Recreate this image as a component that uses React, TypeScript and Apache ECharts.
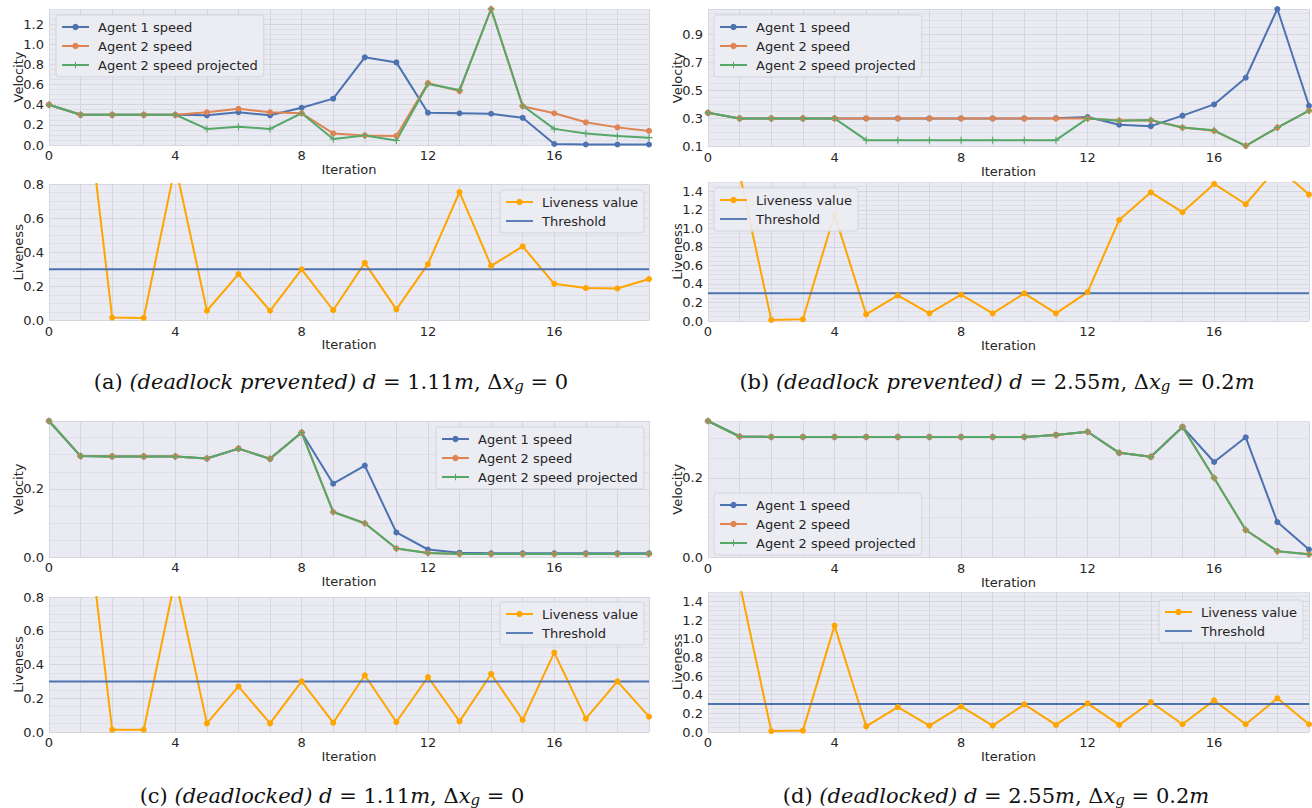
import React, { useEffect, useRef } from 'react';
import * as echarts from 'echarts';

// ---------------- data ----------------
const ITERATIONS = [0, 1, 2, 3, 4, 5, 6, 7, 8, 9, 10, 11, 12, 13, 14, 15, 16, 17, 18, 19];
const X_TICK_LABELS = [0, 4, 8, 12, 16];
const THRESHOLD = 0.3;

// (a) deadlock prevented, d = 1.11m
const A_AGENT1 = [0.40, 0.30, 0.30, 0.30, 0.30, 0.295, 0.325, 0.295, 0.37, 0.46, 0.87, 0.82, 0.32, 0.315, 0.31, 0.27, 0.01, 0.005, 0.005, 0.005];
const A_AGENT2 = [0.40, 0.30, 0.30, 0.30, 0.30, 0.325, 0.36, 0.325, 0.315, 0.115, 0.095, 0.09, 0.615, 0.535, 1.35, 0.385, 0.315, 0.225, 0.175, 0.14];
const A_PROJECTED = [0.40, 0.30, 0.30, 0.30, 0.30, 0.16, 0.18, 0.16, 0.315, 0.06, 0.095, 0.045, 0.605, 0.545, 1.35, 0.39, 0.16, 0.115, 0.09, 0.073];
const A_LIVENESS = [1.9, 1.59, 0.017, 0.015, 0.91, 0.057, 0.272, 0.057, 0.30, 0.06, 0.338, 0.065, 0.33, 0.753, 0.32, 0.434, 0.215, 0.19, 0.188, 0.243];

// (b) deadlock prevented, d = 2.55m
const B_AGENT1 = [0.34, 0.30, 0.30, 0.30, 0.30, 0.30, 0.30, 0.30, 0.30, 0.30, 0.30, 0.302, 0.31, 0.255, 0.245, 0.32, 0.40, 0.59, 1.08, 0.39];
const B_AGENT2 = [0.34, 0.30, 0.30, 0.30, 0.30, 0.30, 0.30, 0.30, 0.30, 0.30, 0.30, 0.30, 0.30, 0.285, 0.287, 0.235, 0.212, 0.105, 0.235, 0.355];
const B_PROJECTED = [0.34, 0.30, 0.30, 0.30, 0.30, 0.145, 0.145, 0.145, 0.145, 0.145, 0.145, 0.145, 0.30, 0.283, 0.288, 0.235, 0.215, 0.105, 0.235, 0.355];
const B_LIVENESS = [1.9, 1.59, 0.012, 0.018, 1.149, 0.072, 0.276, 0.083, 0.284, 0.083, 0.298, 0.083, 0.312, 1.09, 1.389, 1.174, 1.479, 1.26, 1.66, 1.364];

// (c) deadlocked, d = 1.11m
const C_AGENT1 = [0.399, 0.296, 0.295, 0.295, 0.295, 0.289, 0.318, 0.288, 0.365, 0.215, 0.268, 0.072, 0.022, 0.0126, 0.0107, 0.0107, 0.0107, 0.0107, 0.0107, 0.0107];
const C_AGENT2 = [0.399, 0.296, 0.295, 0.295, 0.295, 0.289, 0.318, 0.288, 0.365, 0.132, 0.099, 0.025, 0.0117, 0.0088, 0.0088, 0.0088, 0.0088, 0.0088, 0.0088, 0.0088];
const C_PROJECTED = [0.399, 0.296, 0.295, 0.295, 0.295, 0.289, 0.318, 0.288, 0.365, 0.132, 0.099, 0.025, 0.0117, 0.0088, 0.0088, 0.0088, 0.0088, 0.0088, 0.0088, 0.0088];
const C_LIVENESS = [1.9, 1.59, 0.014, 0.014, 0.91, 0.051, 0.27, 0.051, 0.30, 0.055, 0.336, 0.059, 0.326, 0.063, 0.344, 0.071, 0.47, 0.079, 0.30, 0.091];

// (d) deadlocked, d = 2.55m
const D_AGENT1 = [0.343, 0.304, 0.303, 0.303, 0.303, 0.303, 0.303, 0.303, 0.303, 0.303, 0.303, 0.308, 0.316, 0.263, 0.253, 0.328, 0.24, 0.302, 0.089, 0.02];
const D_AGENT2 = [0.343, 0.304, 0.303, 0.303, 0.303, 0.303, 0.303, 0.303, 0.303, 0.303, 0.303, 0.308, 0.316, 0.263, 0.253, 0.328, 0.20, 0.069, 0.016, 0.008];
const D_PROJECTED = [0.343, 0.304, 0.303, 0.303, 0.303, 0.303, 0.303, 0.303, 0.303, 0.303, 0.303, 0.308, 0.316, 0.263, 0.253, 0.328, 0.20, 0.069, 0.016, 0.008];
const D_LIVENESS = [1.9, 1.59, 0.01, 0.015, 1.14, 0.061, 0.267, 0.069, 0.274, 0.069, 0.296, 0.076, 0.307, 0.076, 0.321, 0.083, 0.339, 0.083, 0.361, 0.083];

// y tick labels
const A_VEL_TICKS = [0, 0.2, 0.4, 0.6, 0.8, 1.0, 1.2];
const B_VEL_TICKS = [0.1, 0.3, 0.5, 0.7, 0.9];
const C_VEL_TICKS = [0, 0.2];
const D_VEL_TICKS = [0, 0.2];
const LIVE_TICKS_SHORT = [0, 0.2, 0.4, 0.6, 0.8];
const LIVE_TICKS_TALL = [0, 0.2, 0.4, 0.6, 0.8, 1.0, 1.2, 1.4];

// y ranges
const A_VEL_RANGE = [0, 1.35];
const B_VEL_RANGE = [0.1, 1.08];
const C_VEL_RANGE = [0, 0.399];
const D_VEL_RANGE = [0, 0.343];
const LIVE_RANGE_SHORT = [0, 0.8];
const LIVE_RANGE_TALL = [0, 1.5];

const SPEED_NAMES = ['Agent 1 speed', 'Agent 2 speed', 'Agent 2 speed projected'];
const LIVENESS_NAMES = ['Liveness value', 'Threshold'];

const CAPTION_A = [['r', '(a) '], ['i', '(deadlock prevented)'], ['r', ' '], ['i', 'd'], ['r', ' = 1.11'], ['i', 'm'], ['r', ', Δ'], ['i', 'x'], ['s', 'g'], ['r', ' = 0']];
const CAPTION_B = [['r', '(b) '], ['i', '(deadlock prevented)'], ['r', ' '], ['i', 'd'], ['r', ' = 2.55'], ['i', 'm'], ['r', ', Δ'], ['i', 'x'], ['s', 'g'], ['r', ' = 0.2'], ['i', 'm']];
const CAPTION_C = [['r', '(c) '], ['i', '(deadlocked)'], ['r', ' '], ['i', 'd'], ['r', ' = 1.11'], ['i', 'm'], ['r', ', Δ'], ['i', 'x'], ['s', 'g'], ['r', ' = 0']];
const CAPTION_D = [['r', '(d) '], ['i', '(deadlocked)'], ['r', ' '], ['i', 'd'], ['r', ' = 2.55'], ['i', 'm'], ['r', ', Δ'], ['i', 'x'], ['s', 'g'], ['r', ' = 0.2'], ['i', 'm']];

// ---------------- styles / layout ----------------
const FONT = 'DejaVu Sans';
const SERIF = 'DejaVu Serif';
const TEXT = '#262626';
const BG = '#EAEAF2';
const VGRID = '#D6D6DE';
const HMAJOR = '#D6D6DE';
const HMINOR = '#DFDFE8';
const BLUE = '#4C72B0';
const ORANGE = '#DD8452';
const GREEN = '#55A868';
const LIVE = '#FFA500';
const PLUS = 'path://M0,4.2H10V5.8H0Z M4.2,0H5.8V10H4.2Z';

type PanelDef = {
  grid: { left: number; top: number; width: number; height: number };
  range: number[];
  ticks: number[];
  yName: string;
  xGap: number;
  legend: { left: number; top: number };
  kind: 'speed' | 'live';
  values: number[][];
};

const PANELS: PanelDef[] = [
  { kind: 'speed', grid: { left: 49, top: 9, width: 600, height: 136 }, range: A_VEL_RANGE, ticks: A_VEL_TICKS, yName: 'Velocity', xGap: 16, legend: { left: 56, top: 15 }, values: [A_AGENT1, A_AGENT2, A_PROJECTED] },
  { kind: 'live', grid: { left: 49, top: 184, width: 600, height: 136.5 }, range: LIVE_RANGE_SHORT, ticks: LIVE_TICKS_SHORT, yName: 'Liveness', xGap: 15.5, legend: { left: 500, top: 190 }, values: [A_LIVENESS] },
  { kind: 'speed', grid: { left: 708, top: 9, width: 601, height: 137.5 }, range: B_VEL_RANGE, ticks: B_VEL_TICKS, yName: 'Velocity', xGap: 18, legend: { left: 714, top: 15 }, values: [B_AGENT1, B_AGENT2, B_PROJECTED] },
  { kind: 'live', grid: { left: 708, top: 182, width: 601, height: 139 }, range: LIVE_RANGE_TALL, ticks: LIVE_TICKS_TALL, yName: 'Liveness', xGap: 15, legend: { left: 714, top: 188 }, values: [B_LIVENESS] },
  { kind: 'speed', grid: { left: 49, top: 421, width: 600, height: 136 }, range: C_VEL_RANGE, ticks: C_VEL_TICKS, yName: 'Velocity', xGap: 16.5, legend: { left: 436, top: 427 }, values: [C_AGENT1, C_AGENT2, C_PROJECTED] },
  { kind: 'live', grid: { left: 49, top: 597, width: 600, height: 135 }, range: LIVE_RANGE_SHORT, ticks: LIVE_TICKS_SHORT, yName: 'Liveness', xGap: 16, legend: { left: 500, top: 602 }, values: [C_LIVENESS] },
  { kind: 'speed', grid: { left: 708, top: 421, width: 601, height: 136.5 }, range: D_VEL_RANGE, ticks: D_VEL_TICKS, yName: 'Velocity', xGap: 18.5, legend: { left: 714, top: 493 }, values: [D_AGENT1, D_AGENT2, D_PROJECTED] },
  { kind: 'live', grid: { left: 708, top: 592, width: 601, height: 140 }, range: LIVE_RANGE_TALL, ticks: LIVE_TICKS_TALL, yName: 'Liveness', xGap: 16, legend: { left: 1159, top: 600 }, values: [D_LIVENESS] },
];

const CAPTIONS = [
  { parts: CAPTION_A, x: 331, y: 382 },
  { parts: CAPTION_B, x: 997, y: 382 },
  { parts: CAPTION_C, x: 332, y: 796 },
  { parts: CAPTION_D, x: 996, y: 796 },
];

const pairs = (vals: number[]) => vals.map((v, i) => [ITERATIONS[i], v]);
const inList = (v: number, list: number[]) => list.some((t) => Math.abs(t - v) < 1e-6);

function legendBase() {
  return {
    show: true, orient: 'vertical', itemWidth: 27, itemHeight: 8, itemGap: 5,
    padding: [5, 6, 5, 5], backgroundColor: 'rgba(236,236,243,0.9)', borderColor: 'rgba(210,210,218,0.9)',
    borderWidth: 1, borderRadius: 3, selectedMode: false,
    textStyle: { color: TEXT, fontSize: 13, fontFamily: FONT, lineHeight: 14, padding: [0, 0, 0, 4] },
  };
}

function buildOption() {
  const grid: any[] = [];
  const xAxis: any[] = [];
  const yAxis: any[] = [];
  const series: any[] = [];
  const legend: any[] = [];

  PANELS.forEach((p, i) => {
    grid.push({ ...p.grid, show: true, backgroundColor: BG, borderWidth: 0, containLabel: false });
    xAxis.push({
      type: 'value', gridIndex: i, min: ITERATIONS[0], max: ITERATIONS[ITERATIONS.length - 1], interval: 1,
      name: 'Iteration', nameLocation: 'middle', nameGap: p.xGap,
      nameTextStyle: { color: TEXT, fontSize: 13, fontFamily: FONT },
      axisLine: { show: false }, axisTick: { show: false },
      axisLabel: {
        margin: 4, color: TEXT, fontSize: 13, fontFamily: FONT,
        formatter: (v: number) => (inList(v, X_TICK_LABELS) ? String(Math.round(v)) : ''),
      },
      splitLine: { show: true, lineStyle: { color: VGRID, width: 1 } },
    });
    yAxis.push({
      type: 'value', gridIndex: i, min: p.range[0], max: p.range[1], interval: 0.05,
      name: p.yName, nameLocation: 'middle', nameGap: 24, nameRotate: 90, nameMoveOverlap: false,
      nameTextStyle: { color: TEXT, fontSize: 13, fontFamily: FONT },
      axisLine: { show: false }, axisTick: { show: false },
      axisLabel: {
        margin: 5, color: TEXT, fontSize: 13, fontFamily: FONT,
        formatter: (v: number) => (inList(v, p.ticks) ? v.toFixed(1) : ''),
      },
      splitLine: { show: true, lineStyle: { color: [HMAJOR, HMINOR, HMINOR, HMINOR], width: 1 } },
    });

    const common = { xAxisIndex: i, yAxisIndex: i, clip: true, silent: true, animation: false };
    if (p.kind === 'speed') {
      const colors = [BLUE, ORANGE, GREEN];
      const symbols = ['circle', 'circle', PLUS];
      p.values.forEach((vals, k) => {
        series.push({
          ...common, type: 'line', name: SPEED_NAMES[k], data: pairs(vals),
          symbol: symbols[k], symbolSize: k === 2 ? 7 : 6, showSymbol: true,
          lineStyle: { color: colors[k], width: 2 }, itemStyle: { color: colors[k] },
        });
      });
      legend.push({
        ...legendBase(), left: p.legend.left, top: p.legend.top,
        data: SPEED_NAMES.map((n) => ({ name: n })),
      });
    } else {
      series.push({
        ...common, type: 'line', name: LIVENESS_NAMES[0], data: pairs(p.values[0]),
        symbol: 'circle', symbolSize: 6, showSymbol: true,
        lineStyle: { color: LIVE, width: 2 }, itemStyle: { color: LIVE },
      });
      series.push({
        ...common, type: 'line', name: LIVENESS_NAMES[1],
        data: [[ITERATIONS[0], THRESHOLD], [ITERATIONS[ITERATIONS.length - 1], THRESHOLD]],
        symbol: 'none', showSymbol: false,
        lineStyle: { color: BLUE, width: 2 }, itemStyle: { color: BLUE },
      });
      legend.push({
        ...legendBase(), left: p.legend.left, top: p.legend.top,
        data: [{ name: LIVENESS_NAMES[0] }, { name: LIVENESS_NAMES[1], icon: 'path://M0,0H30V2H0Z' }],
      });
    }
  });

  const rich = {
    r: { fontFamily: SERIF, fontSize: 21, lineHeight: 22, fill: '#111' },
    i: { fontFamily: SERIF, fontStyle: 'italic', fontSize: 21, lineHeight: 22, fill: '#111' },
    s: { fontFamily: SERIF, fontStyle: 'italic', fontSize: 15, lineHeight: 12, verticalAlign: 'bottom', fill: '#111' },
  };

  const graphic = CAPTIONS.map((c) => ({
    type: 'text', x: c.x, y: c.y, silent: true,
    style: {
      text: c.parts.map(([k, t]) => `{${k}|${t}}`).join(''),
      rich, align: 'center', verticalAlign: 'middle', fill: '#111',
    },
  }));

  return { animation: false, backgroundColor: '#ffffff', textStyle: { fontFamily: FONT }, grid, xAxis, yAxis, series, legend, graphic };
}

export default function App() {
  const ref = useRef<HTMLDivElement>(null);
  useEffect(() => {
    if (!ref.current) return;
    const chart = echarts.init(ref.current, undefined, { renderer: 'svg' });
    chart.setOption(buildOption() as any);
    return () => chart.dispose();
  }, []);
  return (
    <div
      ref={ref}
      style={{ position: 'absolute', left: 0, top: 0, width: 1312, height: 808, background: '#fff' }}
    />
  );
}
